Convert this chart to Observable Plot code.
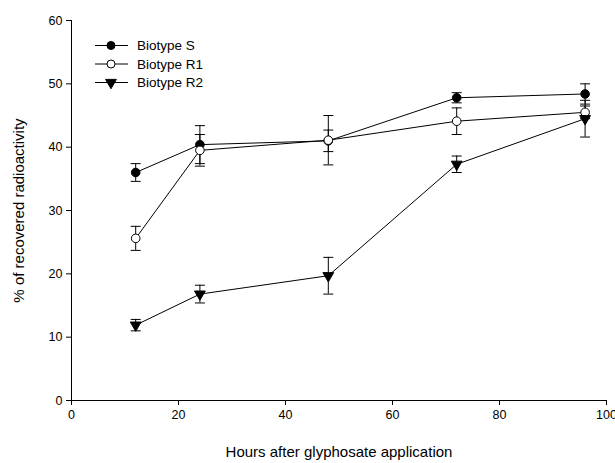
<!DOCTYPE html>
<html>
<head>
<meta charset="utf-8">
<script src="https://cdn.jsdelivr.net/npm/d3@7"></script>
<script src="https://cdn.jsdelivr.net/npm/@observablehq/plot@0.6"></script>
<style>
  body { margin: 0; background: #fff; }
  #chart { position: relative; width: 615px; height: 463px; }
  svg { font-family: "Liberation Sans", Arial, sans-serif; }
</style>
</head>
<body>
<div id="chart"></div>
<script>
const hours = [12, 24, 48, 72, 96];
const seriesNames = ["Biotype S", "Biotype R1", "Biotype R2"];
const valuesS  = [36.0, 40.4, 41.0, 47.8, 48.4];
const errorsS  = [1.4, 3.0, 1.7, 0.8, 1.6];
const valuesR1 = [25.6, 39.5, 41.1, 44.1, 45.5];
const errorsR1 = [1.9, 2.5, 3.9, 2.1, 1.0];
const valuesR2 = [11.9, 16.8, 19.7, 37.3, 44.5];
const errorsR2 = [0.9, 1.4, 2.9, 1.3, 2.9];
const xTicks = [0, 20, 40, 60, 80, 100];
const yTicks = [0, 10, 20, 30, 40, 50, 60];

const seriesValues = [valuesS, valuesR1, valuesR2];
const seriesErrors = [errorsS, errorsR1, errorsR2];
const symbols = ["circle", "circle", "triangle"];
const fills = ["black", "white", "black"];

const data = [];
seriesNames.forEach((name, i) => {
  hours.forEach((h, j) => {
    data.push({series: name, hour: h, value: seriesValues[i][j], err: seriesErrors[i][j],
               symbol: symbols[i], fill: fills[i]});
  });
});

const capSymbol = {
  draw(context, size) {
    context.moveTo(-5, 0);
    context.lineTo(5, 0);
  }
};

const plot = Plot.plot({
  width: 615,
  height: 463,
  marginLeft: 71,
  marginRight: 9,
  marginTop: 20,
  marginBottom: 63,
  style: {fontFamily: '"Liberation Sans", Arial, sans-serif', fontSize: "12px", color: "#000"},
  x: {domain: [0, 100], ticks: xTicks, tickSize: 5, tickPadding: 5, label: "Hours after glyphosate application", labelAnchor: "center", labelArrow: "none", labelOffset: 56},
  y: {domain: [0, 60], ticks: yTicks, tickSize: 5, tickPadding: 4, label: "% of recovered radioactivity", labelAnchor: "center", labelArrow: "none", labelOffset: 58},
  marks: [
    Plot.ruleX([0], {stroke: "black", strokeWidth: 1}),
    Plot.ruleY([0], {stroke: "black", strokeWidth: 1}),
    Plot.ruleX(data, {x: "hour", y1: d => d.value - d.err, y2: d => d.value + d.err, stroke: "black", strokeWidth: 1}),
    Plot.dot(data, {x: "hour", y: d => d.value + d.err, symbol: () => capSymbol, stroke: "black", strokeWidth: 1, r: 5}),
    Plot.dot(data, {x: "hour", y: d => d.value - d.err, symbol: () => capSymbol, stroke: "black", strokeWidth: 1, r: 5}),
    Plot.line(data, {x: "hour", y: "value", z: "series", stroke: "black", strokeWidth: 1}),
    Plot.dot(data.filter(d => d.symbol === "circle"), {x: "hour", y: "value", r: 4.3, fill: d => d.fill, stroke: "black", strokeWidth: 1}),
    Plot.dot(data.filter(d => d.symbol === "triangle"), {x: "hour", y: "value", symbol: "triangle", r: 4, rotate: 180, fill: "black", stroke: "black", strokeWidth: 1})
  ]
});

const svg = d3.select(plot);
svg.selectAll("g[aria-label='x-axis label'] text, g[aria-label='y-axis label'] text").style("font-size", "15px");
svg.selectAll("g[aria-label='x-axis tick label'] text, g[aria-label='y-axis tick label'] text").style("font-size", "12.5px");

// Legend inside plot, top-left
const lg = svg.append("g").attr("aria-label", "legend").attr("text-anchor", "start");
seriesNames.forEach((name, i) => {
  const yy = 45.5 + i * 18.5;
  const g = lg.append("g");
  g.append("line").attr("x1", 95).attr("x2", 128).attr("y1", yy).attr("y2", yy).attr("stroke", "black");
  if (symbols[i] === "circle") {
    g.append("circle").attr("cx", 111).attr("cy", yy).attr("r", 4).attr("fill", fills[i]).attr("stroke", "black");
  } else {
    g.append("path").attr("d", d3.symbol(d3.symbolTriangle, Math.PI * 4 * 4)()).attr("transform", `translate(111,${yy}) rotate(180)`).attr("fill", "black").attr("stroke", "black");
  }
  g.append("text").attr("x", 137).attr("y", yy).attr("dy", "0.35em").attr("font-size", "13.5px").attr("fill", "black").text(name);
});

document.getElementById("chart").appendChild(plot);
</script>
</body>
</html>
